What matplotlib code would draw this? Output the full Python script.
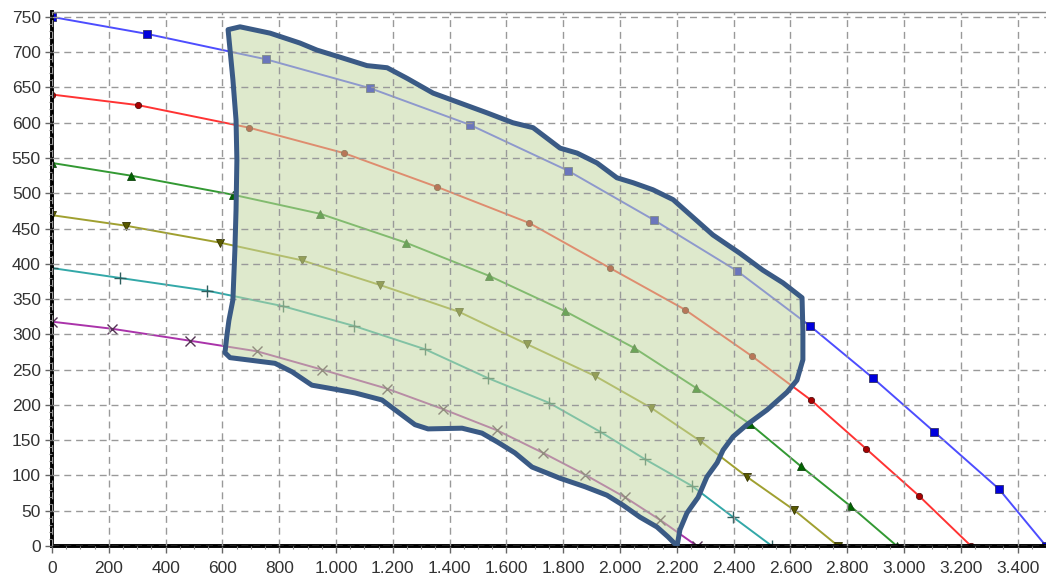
import matplotlib.pyplot as plt
from matplotlib.ticker import MultipleLocator, FuncFormatter

# Kennlinien (Volumenstrom, Druck)
blau_x = [0, 334, 753, 1120, 1472, 1817, 2120, 2412, 2669, 2891, 3106, 3334, 3500]
blau_y = [750, 726, 690, 649, 597, 532, 462, 390, 312, 238, 162, 81, 0]

rot_x = [0, 303, 694, 1028, 1356, 1680, 1965, 2229, 2465, 2672, 2866, 3053, 3236]
rot_y = [640, 625, 593, 557, 509, 458, 394, 335, 269, 207, 138, 71, 0]

gruen_x = [0, 278, 637, 944, 1246, 1539, 1806, 2049, 2268, 2458, 2637, 2810, 2975]
gruen_y = [543, 525, 498, 471, 430, 383, 333, 281, 224, 173, 113, 57, 0]

oliv_x = [0, 261, 592, 880, 1155, 1433, 1673, 1912, 2109, 2282, 2447, 2613, 2768]
oliv_y = [469, 454, 430, 405, 370, 332, 286, 241, 196, 149, 98, 51, 0]

tuerkis_x = [0, 239, 546, 813, 1063, 1313, 1535, 1750, 1930, 2088, 2254, 2398, 2535]
tuerkis_y = [394, 380, 362, 340, 312, 279, 238, 203, 162, 123, 85, 41, 0]

lila_x = [0, 211, 486, 722, 951, 1180, 1377, 1567, 1729, 1877, 2018, 2141, 2271]
lila_y = [318, 308, 291, 276, 250, 223, 194, 164, 132, 101, 69, 37, 0]

# Arbeitsbereich (handgezeichnete Kontur)
bereich_x = [620, 662, 768, 873, 933, 1014, 1109, 1180, 1250, 1342, 1437, 1532, 1623,
             1694, 1789, 1849, 1919, 1989, 2046, 2116, 2187, 2257, 2327, 2422, 2503,
             2574, 2641, 2644, 2644, 2623, 2588, 2518, 2447, 2398, 2363, 2342, 2306,
             2275, 2236, 2211, 2201, 2169, 2130, 2070, 2010, 1954, 1877, 1789, 1690,
             1630, 1570, 1514, 1444, 1324, 1278, 1208, 1162, 1067, 972, 915, 845, 785,
             627, 609, 616, 623, 637, 644, 648, 651, 648, 637, 627]
bereich_y = [732, 736, 727, 713, 703, 693, 681, 678, 663, 642, 628, 614, 600,
             593, 564, 557, 543, 522, 515, 505, 491, 466, 441, 415, 391,
             373, 352, 306, 264, 235, 218, 193, 172, 155, 136, 118, 98,
             69, 47, 23, 0, 13, 27, 41, 58, 72, 84, 96, 112,
             132, 147, 160, 167, 166, 172, 193, 207, 217, 224, 228, 247, 259,
             267, 274, 299, 320, 349, 420, 476, 547, 604, 661, 703]

kurven = [
    (blau_x, blau_y, '#4d4dff', 's', '#0000dd', 6, '#333366'),
    (rot_x, rot_y, '#ff3333', 'o', '#aa0000', 4.5, '#551111'),
    (gruen_x, gruen_y, '#339933', '^', '#006600', 6, '#114411'),
    (oliv_x, oliv_y, '#a0a030', 'v', '#5a5a00', 6, '#333300'),
    (tuerkis_x, tuerkis_y, '#33a8a8', '+', '#2f5f5f', 8, '#2f5f5f'),
    (lila_x, lila_y, '#aa33aa', 'x', '#553355', 7, '#553355'),
]

plt.rcParams['font.family'] = ['Liberation Sans', 'DejaVu Sans']

fig = plt.figure(figsize=(10.46, 5.81), dpi=100)
ax = fig.add_axes([52 / 1046, 35 / 581, 994 / 1046, 534 / 581])

for x, y, farbe, marker, mfarbe, msize, kante in kurven:
    ax.plot(x, y, color=farbe, lw=1.4, marker=marker, ms=msize, mfc=mfarbe,
            mec=kante, mew=1.0 if marker in '+x' else 0.6, zorder=1)

ax.fill(bereich_x, bereich_y, facecolor='#c4d8a2', alpha=0.55, edgecolor='none', zorder=1.5)
ax.fill(bereich_x, bereich_y, facecolor='none', edgecolor='#3a5a85', lw=3.6,
        joinstyle='round', zorder=3)

ax.set_xlim(0, 3500)
ax.set_ylim(0, 757)
ax.xaxis.set_major_locator(MultipleLocator(200))
ax.xaxis.set_minor_locator(MultipleLocator(50))
ax.yaxis.set_major_locator(MultipleLocator(50))
ax.yaxis.set_minor_locator(MultipleLocator(10))
ax.xaxis.set_major_formatter(FuncFormatter(lambda v, p: f"{int(v):,}".replace(',', '.')))

ax.set_axisbelow(False)
ax.grid(True, which='major', color='#999999', lw=1.0, linestyle=(0, (5, 3.5)))

ax.spines['left'].set_linewidth(2.8)
ax.spines['bottom'].set_linewidth(2.8)
ax.spines['left'].set_color('black')
ax.spines['bottom'].set_color('black')
ax.spines['top'].set_color('#888888')
ax.spines['top'].set_linewidth(1.0)
ax.spines['right'].set_visible(False)

ax.tick_params(axis='both', which='major', direction='out', length=5, width=1,
               color='#666666', labelsize=12.5, labelcolor='#333333', pad=3)
ax.tick_params(axis='both', which='minor', direction='out', length=2.5, width=0.8,
               color='#888888')
ax.tick_params(axis='x', which='major', pad=6)
ax.tick_params(top=False, which='both')

fig.savefig('out.png', dpi=100)
